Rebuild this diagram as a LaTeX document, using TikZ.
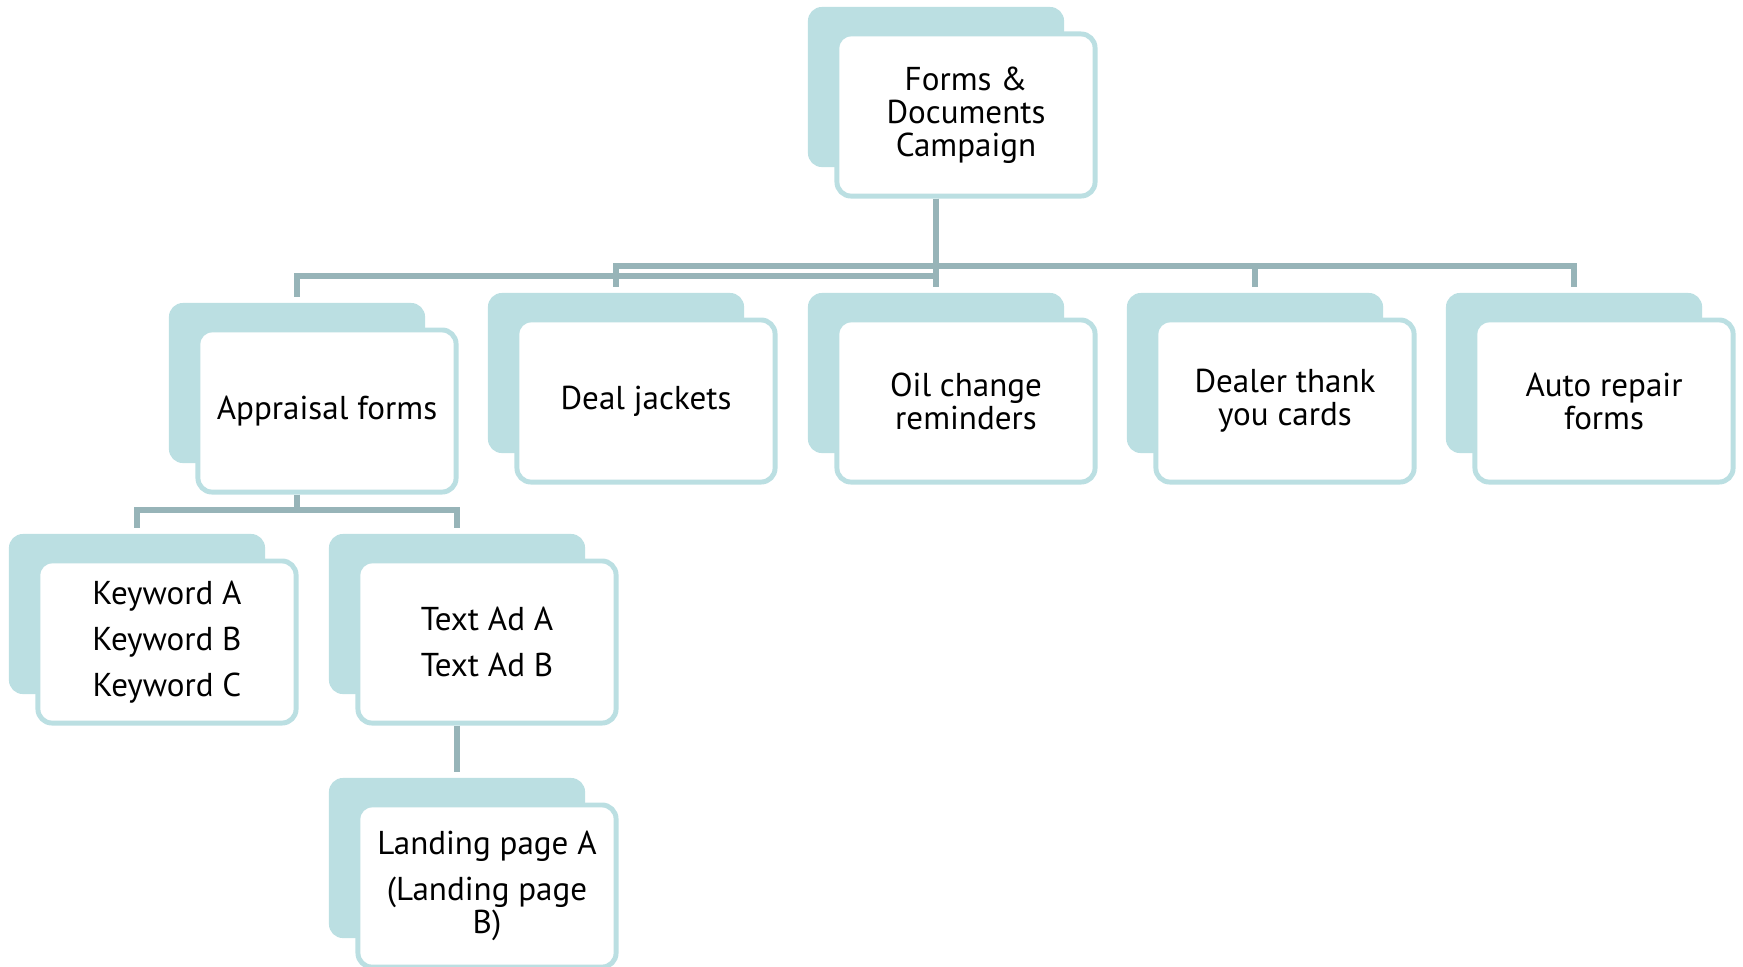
\documentclass[tikz,border=0pt]{standalone}
\usepackage{fontspec}
\setmainfont{PT Sans}
\usetikzlibrary{backgrounds}
\definecolor{tealback}{RGB}{187,223,226}
\definecolor{linkgray}{RGB}{151,180,184}
\begin{document}
\begin{tikzpicture}[x=0.01cm,y=-0.01cm,font=\fontsize{9.4}{9.4}\selectfont,
    tile/.style={draw=tealback,line width=1.4pt,fill=white,rounded corners=0.14cm,
        minimum width=2.58cm,minimum height=1.62cm,align=center,inner sep=2pt},
    shade/.style={fill=tealback,rounded corners=0.14cm,minimum width=2.56cm,minimum height=1.6cm},
    link/.style={draw=linkgray,line width=1.7pt,shorten >=0.05cm}]
                        \useasboundingbox (0,0) rectangle (1743,966);
                        \node[tile] (camp) at (966,115){Forms \&\\Documents\\Campaign};
                        \node[tile] (appr) at (327,411){Appraisal forms};
                        \node[tile] (deal) at (646,401){Deal jackets};
                        \node[tile] (oil) at (966,401){Oil change\\reminders};
                        \node[tile] (thanks) at (1285,401){Dealer thank\\you cards};
                        \node[tile] (repair) at (1604,401){Auto repair\\forms};
                        \node[tile] (kw) at (167,642){Keyword A\\[3.6pt]Keyword B\\[3.6pt]Keyword C};
                        \node[tile] (ad) at (487,642){Text Ad A\\[3.6pt]Text Ad B};
                        \node[tile] (land) at (487,886){Landing page A\\[3.6pt](Landing page\\B)};

                        \begin{scope}[on background layer]
                        \node[shade] (campb) at ([shift={(-30,-28)}]camp.center){};
                        \node[shade] (apprb) at ([shift={(-30,-28)}]appr.center){};
                        \node[shade] (dealb) at ([shift={(-30,-28)}]deal.center){};
                        \node[shade] (oilb) at ([shift={(-30,-28)}]oil.center){};
                        \node[shade] (thanksb) at ([shift={(-30,-28)}]thanks.center){};
                        \node[shade] (repairb) at ([shift={(-30,-28)}]repair.center){};
                        \node[shade] (kwb) at ([shift={(-30,-28)}]kw.center){};
                        \node[shade] (adb) at ([shift={(-30,-28)}]ad.center){};
                        \node[shade] (landb) at ([shift={(-30,-28)}]land.center){};

                        \draw[link] (camp.south -| campb.center) -- ++(0,77) -| (apprb.north);
                        \draw[link] (camp.south -| campb.center) -- ++(0,67) -| (dealb.north);
                        \draw[link] (camp.south -| campb.center) -- (oilb.north);
                        \draw[link] (camp.south -| campb.center) -- ++(0,67) -| (thanksb.north);
                        \draw[link] (camp.south -| campb.center) -- ++(0,67) -| (repairb.north);
                        \draw[link] (appr.south -| apprb.center) -- ++(0,15) -| (kwb.north);
                        \draw[link] (appr.south -| apprb.center) -- ++(0,15) -| (adb.north);
                        \draw[link] (ad.south -| adb.center) -- (landb.north);
                        \end{scope}
                    \end{tikzpicture}
\end{document}
